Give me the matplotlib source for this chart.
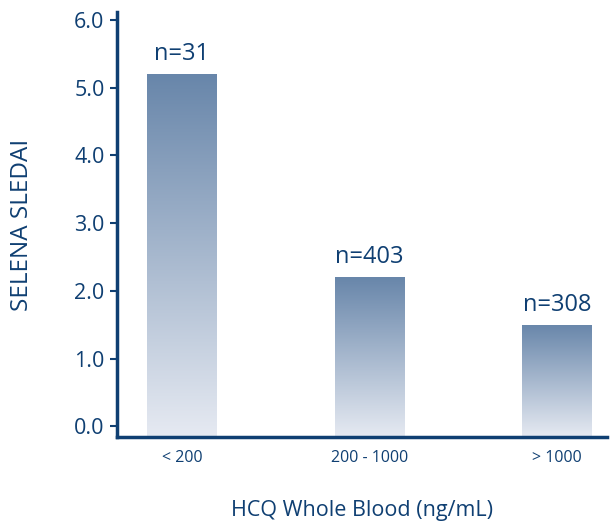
import numpy as np
import matplotlib
matplotlib.use("Agg")
import matplotlib.pyplot as plt
from matplotlib.colors import LinearSegmentedColormap

categories = ["< 200", "200 - 1000", "> 1000"]
values = [5.2, 2.2, 1.5]
n_labels = ["n=31", "n=403", "n=308"]
yticks = [0.0, 1.0, 2.0, 3.0, 4.0, 5.0, 6.0]

navy = "#0f3f72"
plt.rcParams['font.family'] = ['Open Sans', 'DejaVu Sans']

fig = plt.figure(figsize=(6.11, 5.23), dpi=100)
ax = fig.add_axes([0.1915, 0.1644, 0.802, 0.8126])

ymin, ymax = -0.16, 6.12
ax.set_xlim(-0.347, 2.267)
ax.set_ylim(ymin, ymax)

x = np.arange(len(categories))
width = 0.373
bars = ax.bar(x, [v - ymin for v in values], width=width, bottom=ymin,
              color="none", edgecolor="none")

cmap = LinearSegmentedColormap.from_list("g", ["#e6eaf2", "#6886aa"])
grad = np.linspace(0, 1, 256).reshape(-1, 1)
for b, v in zip(bars, values):
    x0 = b.get_x()
    x1 = x0 + b.get_width()
    im = ax.imshow(grad, cmap=cmap, origin="lower", aspect="auto",
                   extent=[x0, x1, ymin, v], zorder=1)
    im.set_clip_path(b)

for xi, v, lab in zip(x, values, n_labels):
    ax.text(xi, v + 0.12, lab, ha="center", va="bottom", fontsize=17,
            color=navy)

ax.set_xticks(x)
ax.set_xticklabels(categories, fontsize=11.5, color=navy)
ax.tick_params(axis="x", length=0, pad=9)
ax.set_yticks(yticks)
ax.set_yticklabels([f"{t:.1f}" for t in yticks], fontsize=15.5, color=navy)
ax.tick_params(axis="y", length=5, width=1.5, color=navy, pad=4)

for s in ["top", "right"]:
    ax.spines[s].set_visible(False)
for s in ["left", "bottom"]:
    ax.spines[s].set_color(navy)
    ax.spines[s].set_linewidth(2.5)

ax.set_ylabel("SELENA SLEDAI", fontsize=17.5, color=navy, labelpad=29)
ax.set_xlabel("HCQ Whole Blood (ng/mL)", fontsize=15.5, color=navy, labelpad=25)

fig.savefig("out.png", dpi=100)
